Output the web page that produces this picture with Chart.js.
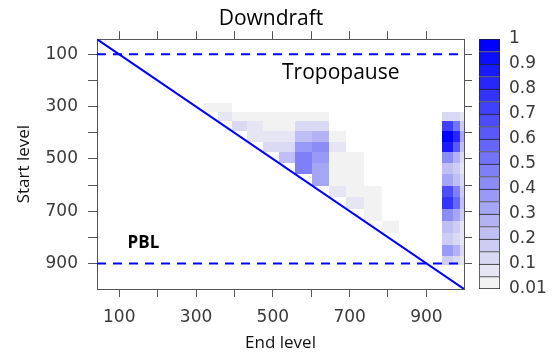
<!DOCTYPE html>
<html lang="en">
<head>
  <meta charset="UTF-8">
  <title>Downdraft</title>
  <script src="https://cdn.jsdelivr.net/npm/chart.js"></script>
  <style>
    body { margin: 0; background: #fff; }
    #wrap { position: relative; width: 554px; height: 357px; }
    #main { position: absolute; left: 0; top: 0; }
    #key { position: absolute; left: 470px; top: 0; }
  </style>
</head>
<body>
  <div id="wrap">
    <canvas id="main" width="554" height="357"></canvas>
    <canvas id="key" width="84" height="357"></canvas>
  </div>

  <script>
    // level axis (start level = y, end level = x)
    const levelMin = 42;
    const levelMax = 998;
    const levelTicks = [100, 200, 300, 400, 500, 600, 700, 800, 900];
    const levelTickLabels = ['100', '', '300', '', '500', '', '700', '', '900'];

    // edges of the level bins used by the grid
    const levelEdges = [285, 320, 356, 394, 434, 475, 516, 558, 602, 646, 691, 738, 784, 828, 873, 908, 941, 969, 988, 1000];

    // fraction per cell: one row per start-level bin, one column per end-level bin
    const fractions = [
      [0, .03, .03, 0, 0, 0, 0, 0, 0, 0, 0, 0, 0, 0, 0, 0, 0, 0, 0],
      [0, 0, .07, .03, .03, .03, .03, .03, .03, 0, 0, 0, 0, 0, 0, 0, .12, .12, .06],
      [0, 0, 0, .12, .07, .03, .03, .12, .12, 0, 0, 0, 0, 0, 0, 0, .70, .50, .18],
      [0, 0, 0, 0, .07, .07, .07, .21, .28, .03, 0, 0, 0, 0, 0, 0, .97, .82, .31],
      [0, 0, 0, 0, 0, .12, .12, .37, .43, .07, 0, 0, 0, 0, 0, 0, .85, .62, .24],
      [0, 0, 0, 0, 0, 0, .21, .48, .37, .03, .03, 0, 0, 0, 0, 0, .40, .28, .12],
      [0, 0, 0, 0, 0, 0, 0, .48, .31, .03, .03, 0, 0, 0, 0, 0, .24, .18, .08],
      [0, 0, 0, 0, 0, 0, 0, 0, .31, .03, .03, 0, 0, 0, 0, 0, .34, .24, .12],
      [0, 0, 0, 0, 0, 0, 0, 0, 0, .07, .03, .03, 0, 0, 0, 0, .65, .46, .18],
      [0, 0, 0, 0, 0, 0, 0, 0, 0, 0, .07, .03, 0, 0, 0, 0, .78, .56, .21],
      [0, 0, 0, 0, 0, 0, 0, 0, 0, 0, 0, .03, 0, 0, 0, 0, .40, .31, .15],
      [0, 0, 0, 0, 0, 0, 0, 0, 0, 0, 0, 0, .03, 0, 0, 0, .24, .18, .08],
      [0, 0, 0, 0, 0, 0, 0, 0, 0, 0, 0, 0, 0, 0, 0, 0, .18, .12, .06],
      [0, 0, 0, 0, 0, 0, 0, 0, 0, 0, 0, 0, 0, 0, 0, 0, .37, .28, .12],
      [0, 0, 0, 0, 0, 0, 0, 0, 0, 0, 0, 0, 0, 0, 0, 0, .15, .12, .06]
    ];

    // reference levels
    const tropopauseLevel = 100;
    const pblLevel = 900;

    // text labels inside the panel
    const noteTexts = ['Tropopause', 'PBL'];
    const noteX = [677, 163];
    const noteY = [172, 822];

    // colour key
    const keyBreaks = [0.01, 0.05, 0.1, 0.15, 0.2, 0.25, 0.3, 0.35, 0.4, 0.45, 0.5,
                       0.55, 0.6, 0.65, 0.7, 0.75, 0.8, 0.85, 0.9, 0.95, 1];
    const keyLabels = ['0.01', '', '0.1', '', '0.2', '', '0.3', '', '0.4', '', '0.5',
                       '', '0.6', '', '0.7', '', '0.8', '', '0.9', '', '1'];

    const nBoxes = keyBreaks.length - 1;

    function boxColor(k) {
      let t = k / (nBoxes - 1);
      let rg = Math.round(242 * (1 - t));
      let b = Math.round(242 + 13 * t);
      return 'rgb(' + rg + ',' + rg + ',' + b + ')';
    }

    function colorFor(v) {
      for (let k = nBoxes - 1; k >= 0; k--) {
        if (v >= keyBreaks[k]) return boxColor(k);
      }
      return null;
    }

    const tickFont = { family: 'DejaVu Sans', size: 17 };
    const textFont = 'Open Sans';

    // draws the grid cells through the chart's scales
    const cellPlugin = {
      id: 'cells',
      beforeDatasetsDraw(chart) {
        const ctx = chart.ctx;
        const xs = chart.scales.x;
        const ys = chart.scales.y;
        const area = chart.chartArea;
        ctx.save();
        ctx.beginPath();
        ctx.rect(area.left, area.top, area.right - area.left, area.bottom - area.top);
        ctx.clip();
        for (let i = 0; i < fractions.length; i++) {
          for (let j = 0; j < fractions[i].length; j++) {
            let c = colorFor(fractions[i][j]);
            if (!c) continue;
            let x0 = Math.round(xs.getPixelForValue(levelEdges[j]));
            let x1 = Math.round(xs.getPixelForValue(levelEdges[j + 1]));
            let y0 = Math.round(ys.getPixelForValue(levelEdges[i]));
            let y1 = Math.round(ys.getPixelForValue(levelEdges[i + 1]));
            ctx.fillStyle = c;
            ctx.fillRect(x0, y0, x1 - x0, y1 - y0);
          }
        }
        ctx.restore();
      },
      afterDatasetsDraw(chart) {
        const ctx = chart.ctx;
        const xs = chart.scales.x;
        const ys = chart.scales.y;
        ctx.save();
        ctx.fillStyle = '#000';
        ctx.textAlign = 'center';
        ctx.textBaseline = 'middle';
        for (let i = 0; i < noteTexts.length; i++) {
          ctx.font = i === 0 ? '21px "' + textFont + '"' : 'bold 17px "' + textFont + '"';
          ctx.fillText(noteTexts[i], xs.getPixelForValue(noteX[i]), ys.getPixelForValue(noteY[i]));
        }
        ctx.restore();
      }
    };

    function fixedTicks(scale) {
      scale.ticks = levelTicks.map(v => ({ value: v }));
    }

    function levelAxis(position, extra) {
      return Object.assign({
        type: 'linear',
        position: position,
        min: levelMin,
        max: levelMax,
        afterBuildTicks: fixedTicks,
        grid: { drawOnChartArea: false, drawTicks: true, tickLength: 8, color: '#555' },
        border: { display: true, color: '#555', width: 1 },
        ticks: {
          font: tickFont,
          color: '#3a3a3a',
          padding: 10,
          autoSkip: false,
          maxRotation: 0,
          callback: (v, i) => levelTickLabels[i]
        }
      }, extra);
    }

    const scales = {
      x: levelAxis('bottom', {
        title: { display: true, text: 'End level', font: { family: textFont, size: 17 }, color: '#111', padding: { top: 0, bottom: 4 } },
        afterFit: s => { s.height = 68; }
      }),
      x2: levelAxis('top', {
        afterFit: s => { s.height = 8; }
      }),
      y: levelAxis('left', {
        reverse: true,
        title: { display: true, text: 'Start level', font: { family: textFont, size: 17 }, color: '#111', padding: { top: 14, bottom: 0 } },
        afterFit: s => { s.width = 97; }
      }),
      y2: levelAxis('right', {
        reverse: true,
        afterFit: s => { s.width = 78; }
      })
    };
    scales.x2.ticks.display = false;
    scales.y2.ticks.display = false;
    scales.y.grid.tickLength = 9;

    const lineStyle = { showLine: true, pointRadius: 0, borderColor: '#0000ff', borderWidth: 2, fill: false };

    new Chart(document.getElementById('main'), {
      type: 'scatter',
      data: {
        datasets: [
          Object.assign({ label: 'Tropopause', borderDash: [9, 7],
            data: [{ x: levelMin, y: tropopauseLevel }, { x: levelMax, y: tropopauseLevel }] }, lineStyle),
          Object.assign({ label: 'PBL', borderDash: [9, 7],
            data: [{ x: levelMin, y: pblLevel }, { x: levelMax, y: pblLevel }] }, lineStyle),
          Object.assign({ label: 'Start = End',
            data: [{ x: levelMin, y: levelMin }, { x: levelMax, y: levelMax }] }, lineStyle)
        ]
      },
      options: {
        responsive: false,
        animation: false,
        layout: { padding: { left: 0, right: 12, top: 0, bottom: 0 } },
        plugins: {
          legend: { display: false },
          tooltip: { enabled: false },
          title: {
            display: true,
            text: 'Downdraft',
            color: '#000',
            font: { family: textFont, size: 21, weight: 'normal' },
            padding: { top: 6, bottom: 0 }
          }
        },
        scales: scales
      },
      plugins: [cellPlugin]
    });

    // colour key: one stacked box per interval
    let keySets = [];
    for (let k = 0; k < nBoxes; k++) {
      keySets.push({
        data: [1],
        backgroundColor: boxColor(k),
        borderColor: '#222',
        borderWidth: 1,
        borderSkipped: k === 0 ? false : 'start',
        barPercentage: 1,
        categoryPercentage: 1,
        stack: 'key'
      });
    }

    new Chart(document.getElementById('key'), {
      type: 'bar',
      data: { labels: ['key'], datasets: keySets },
      options: {
        responsive: false,
        animation: false,
        layout: { padding: { left: 9, top: 39, bottom: 68, right: 0 } },
        plugins: { legend: { display: false }, tooltip: { enabled: false } },
        scales: {
          x: { stacked: true, display: false },
          y: {
            stacked: true,
            position: 'right',
            min: 0,
            max: nBoxes,
            afterBuildTicks: s => { s.ticks = keyBreaks.map((b, i) => ({ value: i })); },
            afterFit: s => { s.width = 54; },
            grid: { display: false, drawTicks: false },
            border: { display: false },
            ticks: {
              font: tickFont,
              color: '#3a3a3a',
              padding: 9,
              autoSkip: false,
              callback: (v, i) => keyLabels[i]
            }
          }
        }
      }
    });
  </script>
</body>
</html>
